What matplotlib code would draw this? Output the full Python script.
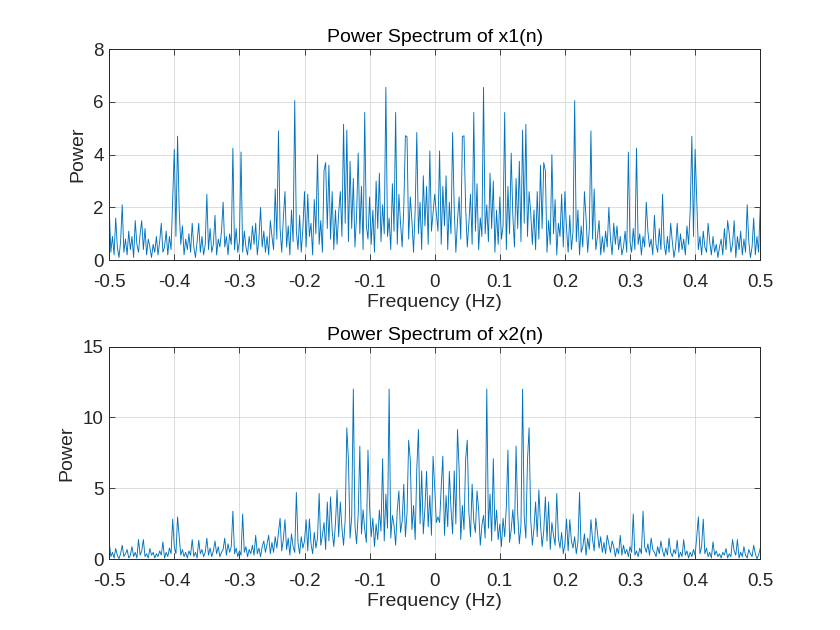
import numpy as np
import matplotlib
matplotlib.use("Agg")
import matplotlib.pyplot as plt

plt.rcParams['font.family'] = ['Liberation Sans', 'DejaVu Sans']

# frequency grid step used for both spectra (Hz)
df = 0.0025

# x1(n): power for f = -0.5 ... 0 (spectrum is symmetric about 0)
p1_half = [
    2.0, 0.3, 0.9, 0.2, 1.6, 0.5, 0.1, 0.7, 2.1, 0.3,
    0.8, 0.2, 1.1, 0.4, 0.9, 0.1, 1.5, 0.6, 0.3, 1.0,
    1.5, 0.4, 1.2, 0.2, 0.8, 0.5, 0.1, 0.6, 0.3, 0.9,
    0.2, 0.7, 1.4, 0.3, 0.5, 1.1, 0.2, 0.9, 0.4, 2.3,
    4.2, 0.9, 4.7, 1.9, 0.6, 1.3, 0.2, 0.8, 0.4, 1.0,
    0.3, 1.4, 0.5, 0.1, 0.7, 1.4, 0.3, 0.9, 0.2, 0.6,
    2.5, 0.4, 1.2, 0.3, 0.6, 1.7, 0.2, 0.8, 0.5, 1.1,
    2.2, 0.5, 0.9, 0.2, 1.0, 0.6, 4.25, 0.4, 1.2, 0.3,
    0.7, 4.1, 0.3, 1.1, 0.5, 0.2, 0.9, 0.4, 1.3, 0.6,
    1.4, 0.2, 0.8, 2.0, 0.5, 1.1, 0.3, 0.9, 0.2, 1.5,
    0.9, 0.4, 2.7, 0.8, 4.9, 1.2, 0.3, 1.6, 2.6, 0.5,
    1.3, 0.2, 1.9, 0.7, 6.05, 1.1, 0.4, 1.7, 0.3, 1.2,
    2.6, 0.5, 2.5, 0.9, 1.4, 0.2, 2.3, 1.0, 4.0, 0.6,
    1.5, 0.3, 3.4, 3.7, 1.2, 3.6, 0.8, 2.6, 0.4, 1.9,
    0.6, 1.8, 2.6, 0.9, 5.15, 1.4, 4.93, 0.7, 3.75, 1.2,
    3.1, 0.5, 1.7, 4.06, 1.0, 2.8, 0.4, 5.6, 1.3, 0.8,
    2.4, 0.6, 1.9, 0.3, 3.0, 1.2, 3.3, 0.7, 2.1, 1.0,
    6.55, 0.9, 1.6, 0.4, 2.9, 1.1, 5.6, 0.6, 2.5, 1.4,
    0.5, 2.0, 4.72, 4.68, 0.8, 2.4, 1.5, 0.3, 1.9, 4.84,
    1.0, 2.2, 0.4, 3.2, 1.3, 2.8, 0.6, 4.14, 1.1, 1.8,
    2.5,
]

# x2(n): power for f = -0.5 ... 0.005 (spectrum is symmetric about 0.005)
p2_half = [
    1.24, 0.2, 0.5, 0.1, 0.77, 0.3, 0.05, 0.4, 1.0, 0.2,
    0.4, 0.7, 0.1, 0.3, 0.9, 0.2, 0.5, 0.1, 1.4, 0.3,
    0.6, 1.4, 0.2, 0.4, 0.1, 0.77, 0.3, 0.5, 0.1, 0.4,
    0.2, 0.6, 0.3, 1.24, 0.1, 0.5, 0.2, 0.8, 0.4, 2.84,
    0.9, 0.4, 3.0, 1.6, 0.3, 0.7, 0.2, 0.5, 0.1, 0.6,
    0.3, 1.4, 0.2, 0.5, 0.1, 1.35, 0.4, 0.7, 0.2, 0.5,
    1.5, 0.3, 0.8, 0.2, 0.6, 1.3, 0.4, 0.9, 0.2, 0.5,
    0.7, 1.5, 0.3, 1.1, 0.5, 0.9, 3.4, 0.4, 0.8, 0.2,
    0.6, 0.3, 3.2, 0.5, 0.9, 0.2, 0.7, 0.4, 1.0, 0.3,
    1.7, 0.4, 0.8, 0.2, 0.9, 1.3, 0.5, 1.1, 1.7, 0.4,
    1.2, 0.5, 1.6, 0.8, 1.9, 2.9, 0.6, 1.4, 2.8, 0.7,
    1.5, 0.3, 1.8, 0.9, 0.5, 4.72, 1.2, 0.4, 1.6, 0.8,
    1.3, 2.8, 0.6, 2.85, 1.1, 0.4, 1.9, 0.8, 1.5, 4.65,
    1.0, 1.7, 2.6, 0.7, 4.05, 1.3, 4.4, 2.0, 0.9, 2.5,
    4.9, 1.6, 4.05, 2.2, 1.0, 2.8, 9.27, 6.99, 1.5, 3.0,
    12.0, 2.4, 1.1, 3.2, 7.98, 1.8, 3.5, 2.1, 1.2, 7.7,
    3.7, 1.6, 2.9, 0.9, 2.5, 1.4, 3.48, 2.0, 7.1, 1.3,
    4.6, 2.2, 12.0, 1.5, 3.1, 2.4, 1.0, 3.5, 4.83, 1.9,
    2.7, 5.3, 1.6, 3.3, 8.4, 7.04, 2.1, 3.8, 1.4, 6.4,
    9.15, 2.5, 6.24, 1.8, 3.6, 6.2, 2.3, 4.5, 1.7, 7.27,
    5.1, 2.6, 3.0,
]

titles = ['Power Spectrum of x1(n)', 'Power Spectrum of x2(n)']
ylims = [(0, 8), (0, 15)]
yticks = [[0, 2, 4, 6, 8], [0, 5, 10, 15]]
xticks = [-0.5, -0.4, -0.3, -0.2, -0.1, 0, 0.1, 0.2, 0.3, 0.4, 0.5]
xticklabels = ['-0.5', '-0.4', '-0.3', '-0.2', '-0.1', '0', '0.1', '0.2', '0.3', '0.4', '0.5']

# build full spectra from the half spectra
p1 = np.array(p1_half + p1_half[-2::-1])
p2 = np.array(p2_half + p2_half[-2::-1])
n_full = int(round(1.0 / df)) + 1
f = -0.5 + df * np.arange(n_full)
spectra = [p1[:n_full], p2[:n_full]]

fig = plt.figure(figsize=(8.4, 6.3), dpi=100)
positions = [[0.130, 0.587, 0.775, 0.335], [0.130, 0.112, 0.775, 0.338]]
axc = '#262626'

for k in range(2):
    ax = fig.add_axes(positions[k])
    ax.plot(f, spectra[k], color='#0072BD', lw=0.65)
    ax.set_xlim(-0.5, 0.5)
    ax.set_ylim(*ylims[k])
    ax.set_xticks(xticks)
    ax.set_xticklabels(xticklabels)
    ax.set_yticks(yticks[k])
    ax.grid(True, color='#dcdcdc', lw=0.7)
    ax.set_axisbelow(True)
    ax.tick_params(direction='in', top=True, right=True, length=4,
                   width=0.6, colors=axc, labelsize=13.5)
    ax.tick_params(axis='x', pad=10)
    ax.tick_params(axis='y', pad=4)
    for s in ax.spines.values():
        s.set_color(axc)
        s.set_linewidth(0.7)
    ax.set_title(titles[k], fontsize=14, color='black', pad=5)
    ax.set_xlabel('Frequency (Hz)', fontsize=14, color=axc, labelpad=2)
    ax.set_ylabel('Power', fontsize=14, color=axc, labelpad=5)

fig.savefig('out.png', dpi=100)
